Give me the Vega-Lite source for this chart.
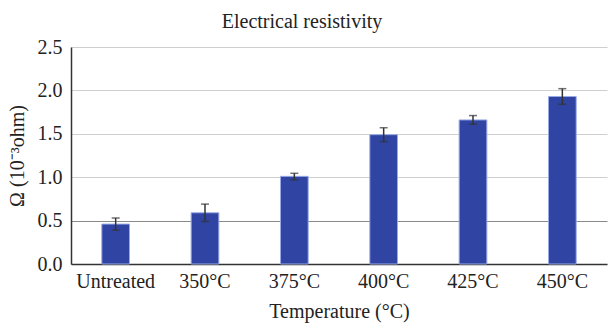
{
  "$schema": "https://vega.github.io/schema/vega-lite/v6.json",
  "width": 536,
  "height": 217,
  "autosize": {"type": "none"},
  "padding": {"left": 71, "top": 47, "right": 1, "bottom": 59},
  "background": "white",
  "title": {"text": "Electrical resistivity", "font": "Liberation Serif", "fontSize": 20, "fontWeight": "normal", "color": "#222", "offset": 5, "dx": -37},
  "config": {
    "view": {"stroke": null},
    "axis": {"labelFont": "Liberation Serif", "titleFont": "Liberation Serif", "labelColor": "#222", "titleColor": "#222", "titleFontWeight": "normal"}
  },
  "data": {"values": [
    {"t": "Untreated", "v": 0.46, "lo": 0.39, "hi": 0.53},
    {"t": "350°C", "v": 0.59, "lo": 0.49, "hi": 0.69},
    {"t": "375°C", "v": 1.01, "lo": 0.97, "hi": 1.045},
    {"t": "400°C", "v": 1.49, "lo": 1.41, "hi": 1.57},
    {"t": "425°C", "v": 1.66, "lo": 1.61, "hi": 1.71},
    {"t": "450°C", "v": 1.93, "lo": 1.84, "hi": 2.02}
  ]},
  "encoding": {
    "x": {"field": "t", "type": "nominal", "sort": null,
      "scale": {"paddingInner": 0.69, "paddingOuter": 0.345},
      "axis": {"title": "Temperature (°C)", "labelAngle": 0, "labelFontSize": 20, "titleFontSize": 20, "tickSize": 0, "labelPadding": 7, "titlePadding": 10, "domainColor": "#333", "domainWidth": 1.5}}
  },
  "layer": [
    {"mark": {"type": "bar", "color": "#2f44a3", "stroke": "#9aaae6", "strokeWidth": 1},
     "encoding": {"y": {"field": "v", "type": "quantitative",
       "scale": {"domain": [0, 2.5], "padding": 0, "nice": false},
       "axis": {"title": "Ω (10⁻³ohm)", "values": [0, 0.5, 1, 1.5, 2, 2.5], "format": ".1f", "labelFontSize": 20, "titleFontSize": 20, "tickSize": 0, "labelPadding": 9, "titlePadding": 10, "domainColor": "#333", "domainWidth": 1.5,
         "gridColor": {"condition": {"test": "datum.value === 0.5", "value": "#8a8a8a"}, "value": "#cfcfcf"}, "gridWidth": 1.2}}}},
    {"mark": {"type": "rule", "color": "#333", "strokeWidth": 1.5},
     "encoding": {"y": {"field": "lo", "type": "quantitative"}, "y2": {"field": "hi"}}},
    {"mark": {"type": "tick", "color": "#333", "size": 8, "thickness": 1.5},
     "encoding": {"y": {"field": "lo", "type": "quantitative"}}},
    {"mark": {"type": "tick", "color": "#333", "size": 8, "thickness": 1.5},
     "encoding": {"y": {"field": "hi", "type": "quantitative"}}}
  ]
}
